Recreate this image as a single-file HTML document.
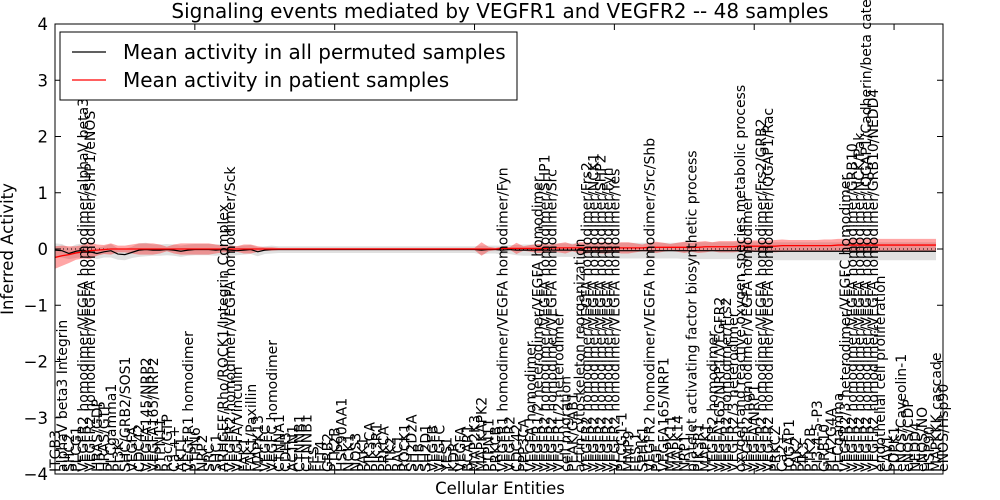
<!DOCTYPE html>
<html><head><meta charset="utf-8"><style>
body{margin:0;background:#fff}
svg{display:block;font-family:"DejaVu Sans","Liberation Sans",sans-serif}
</style></head><body>
<svg id="c" width="1000" height="500" viewBox="0 0 1000 500" xmlns="http://www.w3.org/2000/svg">
<rect width="1000" height="500" fill="#fff"/>
<text x="500" y="18" text-anchor="middle" font-size="20">Signaling events mediated by VEGFR1 and VEGFR2 -- 48 samples</text>
<text transform="translate(13,249) rotate(-90)" text-anchor="middle" font-size="16.5">Inferred Activity</text>
<text x="500" y="494" text-anchor="middle" font-size="16.5">Cellular Entities</text>
<g id="plot"></g>
</svg>
<script>
const labels=["ITGB3","alphaV beta3 Integrin","SHC2","PLCG1","VEGFR2 homodimer/VEGFA homodimer/alphaV beta3","VEGFR2 homodimer/VEGFA homodimer/SHP1/eNOS","HRAS/GDP","HRAS/GTP","PLCgamma1","PI3K","SHC/GRB2/SOS1","VEGFA","CDC42","VEGFA145/NRP2","VEGFA165/NRP2","PTPN11","Rac/GTP","Ca ++","AKT1","VEGFR1 homodimer","PTPN6","NRP2","SRC","SHC1","ARHGEF/Rho/ROCK1/Integrin Complex","VEGFR2 homodimer/VEGFA homodimer/Sck","VEGFA/Vinculin","FAK1","FAK1/Paxillin","MAPK13","VEGFC","VEGFC homodimer","CTNNA1","CDH5","ACTN1","CTNNB1","CTNNB1","FES","FLT4","GRB2","PTK2B","HSP90AA1","NCK1","NOS3","PAK1","PIK3CA","PIK3R1","PRKCA","PTK2","RAC1","ROCK1","SH2D2A","SHB","SH2D1","VEGFB","VEGFC","YES1","KDR","VEGFA","BCAR1","MAP2K3","MAPKAPK2","PTPN11","PRKCB","VEGFR1 homodimer/VEGFA homodimer/Fyn","VEGFR2","CDC42","PPP3CA","VEGFA homodimer","VEGFR1/2 heterodimer/VEGFA homodimer","VEGFR2 homodimer/VEGFA homodimer/SHP1","VEGFR2 homodimer/VEGFA homodimer/Src","VEGFR1/2 heterodimer","cell migration","PEAK/GAB1","actin cytoskeleton reorganization","VEGFR2 homodimer/VEGFA homodimer/Frs2","VEGFR2 homodimer/VEGFA homodimer/NCK1","VEGFR2 homodimer/VEGFA homodimer/SHP2","VEGFR2 homodimer/VEGFA homodimer/Fyn","VEGFR2 homodimer/VEGFA homodimer/Yes","PLCG1-1","MMP9","FES-1","SPHK1","VEGFR2 homodimer/VEGFA homodimer/Src/Shb","PGF","VEGFA165/NRP1","MAPK11","MAPK14","NRP1","platelet activating factor biosynthetic process","PIK3R1","MAPK1","VEGFR2 homodimer","VEGFA165/NRP1/VEGFR2","VEGFR2 homodimer/Frs2","VEGFR2/3 heterodimer","oxygen and reactive oxygen species metabolic process","VEGFR2 homodimer/VEGFA homodimer","VEGFA/NRP1","VEGFR2 homodimer/VEGFA homodimer/Frs2/GRB2","VEGFR2 homodimer/VEGFA homodimer/IQGAP1/Rac","PRKCZ","Ca2+","IQGAP1","PAK2","PIK3","PTK2B","PI3-4-5-P3","GRB10","PLA2G4A","PLCgamma","VEGFR2/3 heterodimer/VEGFC homodimer","VEGFR2 homodimer/VEGFA homodimer/GRB10","VEGFR2 homodimer/VEGFA homodimer/NCK/Pak","VEGFR2 homodimer/VEGFA homodimer/IQGAP1/Cadherin/beta catenin","VEGFR2 homodimer/VEGFA homodimer/GRB10/NEDD4","endothelial cell proliferation","CAV1","PDPK1","eNOS/Caveolin-1","eNOS/CDP","NEDD4","eNOS/NO","HSP90","MAPKKK cascade","eNOS/Hsp90"];
const redMean=[-0.15,-0.12,-0.1,-0.07,-0.05,-0.03,-0.02,-0.01,0,0, 0,0,0,0,0,0,0,0,0,0, 0,0,0,0,0,0,0,0,0,0, 0,0,0,0,0,0,0,0,0,0, 0,0,0,0,0,0,0,0,0,0, 0,0,0,0,0,0,0,0,0,0, 0,0,0,0,0.01,0.01,0.01,0.01,0.01,0.01, 0.01,0.02,0.02,0.02,0.02,0.02,0.02,0.02,0.02,0.02, 0.02,0.02,0.02,0.02,0.02,0.03,0.03,0.03,0.03,0.03, 0.03,0.03,0.03,0.04,0.04,0.04,0.04,0.04,0.05,0.05, 0.05,0.05,0.05,0.05,0.06,0.06,0.06,0.06,0.06,0.06, 0.06,0.06,0.07,0.07,0.07,0.07,0.07,0.07,0.07,0.07, 0.07,0.07,0.07,0.07,0.07,0.07,0.07];
const redHalf=[0.2,0.18,0.15,0.12,0.12,0.15,0.1,0.08,0.1,0.06, 0.06,0.08,0.1,0.1,0.1,0.08,0.04,0.08,0.1,0.1, 0.1,0.1,0.1,0.08,0.06,0.06,0.05,0.08,0.08,0.05, 0.03,0.03,0.02,0.02,0.02,0.02,0.02,0.02,0.02,0.02, 0.02,0.02,0.02,0.02,0.02,0.02,0.02,0.02,0.02,0.02, 0.02,0.02,0.02,0.02,0.02,0.02,0.02,0.02,0.02,0.02, 0.02,0.12,0.04,0.02,0.04,0.02,0.1,0.04,0.06,0.08, 0.08,0.06,0.08,0.1,0.06,0.1,0.1,0.08,0.1,0.1, 0.08,0.1,0.1,0.08,0.06,0.08,0.1,0.08,0.06,0.08, 0.1,0.08,0.1,0.1,0.08,0.1,0.1,0.1,0.1,0.1, 0.1,0.1,0.1,0.11,0.11,0.1,0.1,0.1,0.1,0.1, 0.11,0.11,0.11,0.11,0.11,0.11,0.11,0.11,0.11,0.11, 0.11,0.11,0.11,0.11,0.11,0.11,0.11];
const greyMean=[-0.02,-0.03,-0.08,-0.04,-0.02,-0.05,-0.08,-0.05,-0.03,-0.09, -0.1,-0.06,-0.02,-0.01,-0.02,-0.02,-0.01,-0.02,-0.04,-0.02, -0.01,-0.01,-0.01,-0.02,-0.01,-0.02,-0.03,-0.02,-0.01,-0.05, -0.02,-0.01,-0.01,-0.01,-0.01,-0.01,-0.01,-0.01,-0.01,-0.01, -0.01,-0.01,-0.01,-0.01,-0.01,-0.01,-0.01,-0.01,-0.01,-0.01, -0.01,-0.01,-0.01,-0.01,-0.01,-0.01,-0.01,-0.01,-0.01,-0.01, -0.01,-0.02,-0.01,-0.01,-0.02,-0.01,-0.02,-0.02,-0.02,-0.02, -0.02,-0.02,-0.02,-0.02,-0.02,-0.02,-0.03,-0.03,-0.03,-0.03, -0.03,-0.03,-0.03,-0.03,-0.03,-0.03,-0.03,-0.03,-0.03,-0.03, -0.03,-0.03,-0.03,-0.03,-0.03,-0.03,-0.03,-0.03,-0.03,-0.03, -0.04,-0.04,-0.04,-0.04,-0.04,-0.04,-0.04,-0.04,-0.04,-0.04, -0.04,-0.04,-0.04,-0.04,-0.04,-0.04,-0.04,-0.04,-0.04,-0.04, -0.04,-0.04,-0.04,-0.04,-0.04,-0.04,-0.04];
const greyHalf=[0.12,0.12,0.1,0.12,0.12,0.1,0.1,0.1,0.12,0.1, 0.1,0.1,0.12,0.12,0.1,0.1,0.1,0.1,0.1,0.1, 0.1,0.1,0.1,0.1,0.1,0.1,0.08,0.08,0.08,0.08, 0.07,0.07,0.06,0.06,0.06,0.06,0.06,0.06,0.06,0.06, 0.06,0.06,0.06,0.06,0.06,0.06,0.06,0.06,0.06,0.06, 0.06,0.06,0.06,0.06,0.06,0.06,0.06,0.06,0.06,0.06, 0.06,0.08,0.07,0.07,0.08,0.08,0.09,0.1,0.1,0.1, 0.1,0.1,0.12,0.12,0.12,0.12,0.12,0.12,0.12,0.12, 0.14,0.14,0.14,0.14,0.14,0.14,0.14,0.14,0.14,0.14, 0.15,0.15,0.15,0.15,0.15,0.15,0.15,0.15,0.15,0.15, 0.16,0.16,0.16,0.16,0.16,0.16,0.16,0.16,0.16,0.16, 0.16,0.16,0.16,0.16,0.16,0.16,0.16,0.16,0.16,0.16, 0.16,0.16,0.16,0.16,0.16,0.16,0.16];
const yTicks=[-4,-3,-2,-1,0,1,2,3,4];
const xTickIdx=[0,20,40,60,80,100,120];

const L=55,R=943,T=24,B=474;
const xs=i=>L+i*(R-L)/(labels.length-1);
const ys=v=>249-v*56.25;
const g=document.getElementById('plot');
const NS='http://www.w3.org/2000/svg';
function mk(t,a){const e=document.createElementNS(NS,t);for(const k in a)e.setAttribute(k,a[k]);g.appendChild(e);return e;}
function band(mean,half,fill,op,name){
  let d='';
  mean.forEach((m,i)=>{d+=(i?'L':'M')+xs(i).toFixed(2)+' '+ys(m+half[i]).toFixed(2);});
  for(let i=mean.length-1;i>=0;i--)d+='L'+xs(i).toFixed(2)+' '+ys(mean[i]-half[i]).toFixed(2);
  const e=mk('path',{d:d+'Z',fill:fill,'fill-opacity':op,stroke:'none'});
  
  
}
function line(mean,color,w,name){
  const e=mk('polyline',{points:mean.map((m,i)=>xs(i).toFixed(2)+','+ys(m).toFixed(2)).join(' '),fill:'none',stroke:color,'stroke-width':w});
  
  
}
band(greyMean,greyHalf,'#bbbbbb',0.45,'permuted-band');
band(redMean,redHalf,'#ff0000',0.35,'patient-band');
const z=mk('line',{x1:L,x2:R,y1:ys(0),y2:ys(0),stroke:'#000','stroke-width':1,'stroke-dasharray':'1,3'});


line(greyMean,'#000',1.2,'permuted-mean-line');
line(redMean,'#ff0000',1.3,'patient-mean-line');
labels.forEach((s,i)=>{
  const t=mk('text',{transform:'translate('+(xs(i)+5).toFixed(2)+','+(B-2)+') rotate(-90)','font-size':'14'});
  t.textContent=s;
  
  
});
const fr=mk('rect',{x:L,y:T,width:R-L,height:B-T,fill:'none',stroke:'#000','stroke-width':1});


yTicks.forEach(v=>{
  const y=ys(v);
  const a=mk('line',{x1:L,x2:L+6,y1:y,y2:y,stroke:'#000'});
  
  
  const b=mk('line',{x1:R-6,x2:R,y1:y,y2:y,stroke:'#000'});
  
  
  const t=mk('text',{x:L-7,y:y+6,'text-anchor':'end','font-size':'16.5'});
  t.textContent=v<0?'\u2212'+(-v):String(v);
  
  
});
xTickIdx.forEach(i=>{
  const x=xs(i);
  const a=mk('line',{x1:x,x2:x,y1:T,y2:T+6,stroke:'#000'});
  
  
  const b=mk('line',{x1:x,x2:x,y1:B-6,y2:B,stroke:'#000'});
  
  
});
const lg=mk('rect',{x:60,y:32,width:457,height:68,fill:'#fff',stroke:'#000','stroke-width':1});


[['#000','Mean activity in all permuted samples',52],['#ff0000','Mean activity in patient samples',80]].forEach(([c,s,y])=>{
  const l=mk('line',{x1:72,x2:106,y1:y,y2:y,stroke:c,'stroke-width':1.3});
  
  
  const t=mk('text',{x:123,y:y+7,'font-size':'20'});
  t.textContent=s;
  
  
});
</script>
</body></html>
